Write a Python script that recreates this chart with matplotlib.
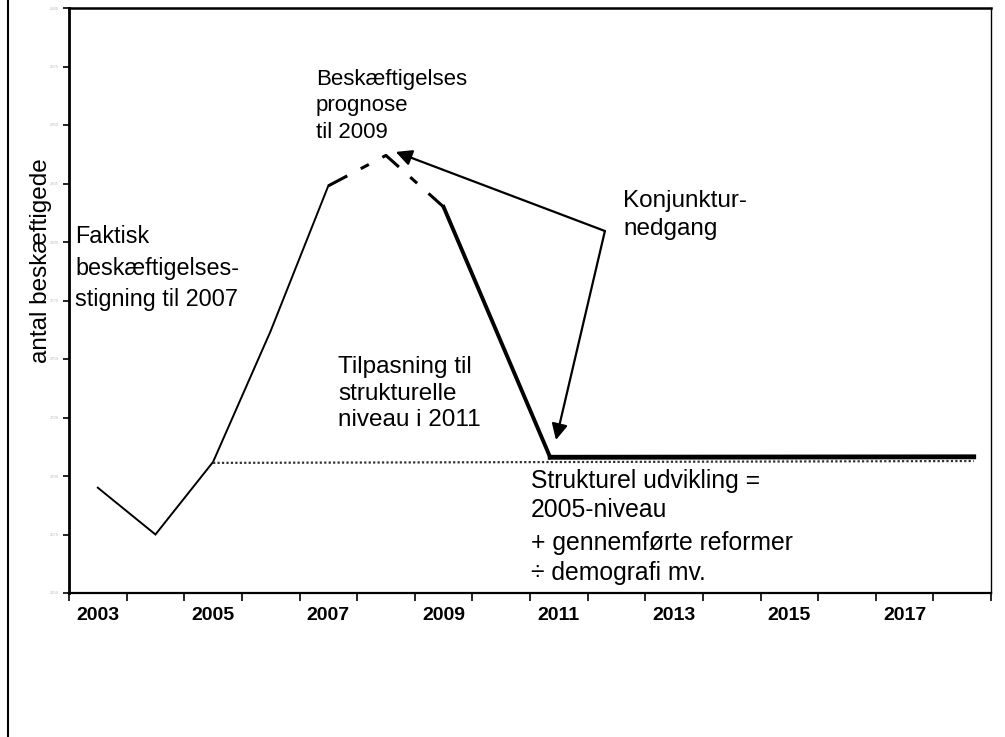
import matplotlib
matplotlib.use("Agg")
import matplotlib.pyplot as plt
from matplotlib.lines import Line2D

plt.rcParams['font.family'] = ['Liberation Sans', 'DejaVu Sans']

# ---- data ----
years_actual = [2003, 2004, 2005, 2006, 2007]
emp_actual = [2695, 2675, 2706, 2762, 2824]

years_forecast = [2007, 2008, 2009]
emp_forecast = [2824, 2837, 2815]

years_adjust = [2009, 2010.85]
emp_adjust = [2815, 2708]

years_struct_level = [2010.85, 2018.2]
emp_struct_level = [2708, 2708.2]

years_trend = [2005, 2018.2]
emp_trend = [2705.6, 2706.4]

tick_years = list(range(2003, 2019, 2))
y_ticks = list(range(2650, 2901, 25))

W, H = 1005, 737
fig = plt.figure(figsize=(W / 100, H / 100), dpi=100)
ax = fig.add_axes([69 / W, 1 - 593 / H, (991 - 69) / W, (593 - 8) / H])

ax.plot(years_actual, emp_actual, color='black', lw=1.4, solid_joinstyle='miter')
ax.plot(years_forecast, emp_forecast, color='black', lw=2.2,
        linestyle=(0, (7, 5, 3, 5)))
ax.plot(years_adjust, emp_adjust, color='black', lw=2.8)
ax.plot(years_trend, emp_trend, color='#333333', lw=1.6, linestyle=(0, (1, 1)))
ax.plot(years_struct_level, emp_struct_level, color='black', lw=3.5)

ax.set_xlim(2002.5, 2018.5)
ax.set_ylim(2650, 2900)

# x axis: ticks at category boundaries, labels at centres
ax.set_xticks([2002.5 + k for k in range(17)])
ax.set_xticklabels([])
ax.set_xticks(tick_years, minor=True)
ax.set_xticklabels([str(y) for y in tick_years], minor=True,
                   fontsize=14, fontweight='bold')
ax.tick_params(axis='x', which='major', direction='out', length=6, width=1.2)
ax.tick_params(axis='x', which='minor', length=0, pad=10)

ax.set_yticks(y_ticks)
ax.set_yticklabels([str(v) for v in y_ticks], fontsize=3, color='#bbbbbb')
ax.tick_params(axis='y', direction='out', length=4, width=1.2, pad=3)

ax.spines['left'].set_linewidth(2)
ax.spines['bottom'].set_linewidth(1.6)
ax.spines['top'].set_linewidth(1.8)
ax.spines['right'].set_linewidth(1.0)

ax.set_ylabel('antal beskæftigede', fontsize=17.5)
ax.yaxis.set_label_coords(-0.0185, 0.569)

# arrows from the "Konjunktur-nedgang" label
src = (2011.80, 2804.7)
for tip in [(2008.17, 2838.5), (2010.95, 2715.4)]:
    ax.annotate('', xy=tip, xytext=src,
                arrowprops=dict(arrowstyle='-|>', color='black', lw=1.6,
                                mutation_scale=24, shrinkA=0, shrinkB=0))

def ftext(x, y, s, size=16, ls=1.25):
    fig.text(x / W, 1 - y / H, s, ha='left', va='top', fontsize=size,
             linespacing=ls)

ftext(316, 69, 'Beskæftigelses\nprognose\ntil 2009', size=16, ls=1.33)
ftext(623, 190, 'Konjunktur-\nnedgang', size=17.5, ls=1.38)
ftext(75, 225, 'Faktisk\nbeskæftigelses-\nstigning til 2007', size=16.8, ls=1.48)
ftext(338, 356, 'Tilpasning til\nstrukturelle\nniveau i 2011', size=17.5, ls=1.27)
ftext(531, 469, 'Strukturel udvikling =\n2005-niveau', size=17.8, ls=1.25)
ftext(531, 531, '+ gennemførte reformer\n÷ demografi mv.', size=17.8, ls=1.3)

# outer left border
fig.add_artist(Line2D([8 / W, 8 / W], [0, 1], transform=fig.transFigure,
                      color='black', lw=1.5))

fig.savefig('out.png', dpi=100)
